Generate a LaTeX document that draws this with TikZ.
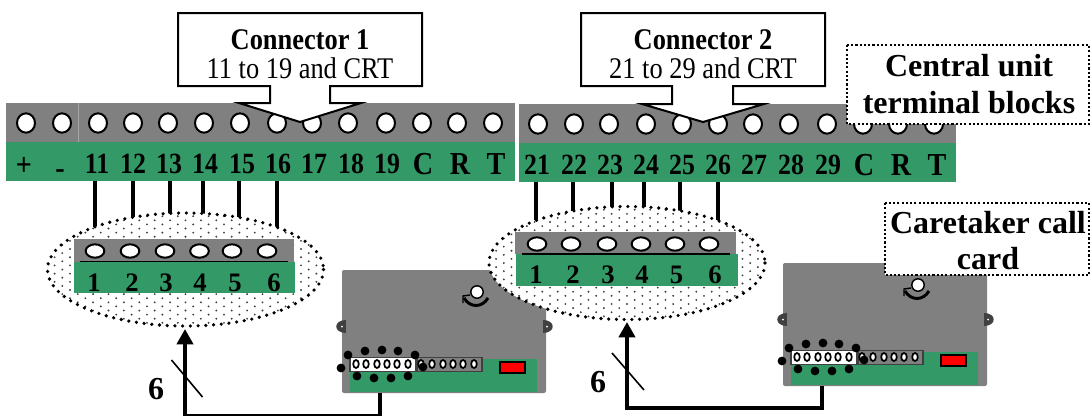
\documentclass[tikz,border=0pt]{standalone}
\usepackage{fontspec}
\setmainfont{Liberation Serif}
\usetikzlibrary{shapes.geometric,arrows.meta}
\definecolor{blockgrey}{HTML}{808080}
\definecolor{blockgreen}{HTML}{339966}
\definecolor{edgegrey}{HTML}{404040}
\newcommand{\narrow}[1]{\scalebox{0.88}[1]{#1}}
\tikzset{
  greypart/.style={fill=blockgrey,draw=none},
  greenpart/.style={fill=blockgreen,draw=none},
  hole/.style={ellipse,draw=black,fill=white,line width=1.5pt,inner sep=0pt,minimum width=13.5pt,minimum height=14.5pt},
  smallhole/.style={ellipse,draw=black,fill=white,line width=1.5pt,inner sep=0pt,minimum width=14pt,minimum height=10pt},
  termlabel/.style={anchor=base,inner sep=0pt,font=\fontsize{22pt}{24pt}\selectfont\bfseries},
  capslabel/.style={anchor=base,inner sep=0pt,font=\fontsize{24pt}{26pt}\selectfont\bfseries},
  digitlabel/.style={anchor=base,inner sep=0pt,font=\fontsize{20pt}{22pt}\selectfont\bfseries},
  biglabel/.style={anchor=base,inner sep=0pt,font=\fontsize{24pt}{28pt}\selectfont\bfseries},
  calloutbox/.style={draw=black,fill=white,line width=1.5pt,line join=miter},
  calltext/.style={anchor=base,inner sep=0pt,font=\fontsize{22.5pt}{24pt}\selectfont},
  notebox/.style={draw=black,fill=white,line width=1.6pt,dash pattern=on 1.6pt off 1.6pt},
  wire/.style={draw=black,line width=3pt},
  bus/.style={draw=black,line width=3pt,line join=miter},
  busarrow/.style={bus,-{Triangle[width=12pt,length=11.5pt]}},
  slash/.style={draw=black,line width=1.2pt},
  zonerim/.style={draw=black,line width=2.7pt,line cap=round,dash pattern=on 0pt off 5.8pt},
}
\newcommand{\dotzone}[2]{%
  \begin{scope}
    \clip (#1,#2) ellipse [x radius=138,y radius=56.5];
    \fill[white] (#1,#2) ellipse [x radius=138,y radius=56.5];
    \foreach \r in {-15,...,15}{%
      \pgfmathsetmacro{\yy}{#2+\r*4.1}
      \pgfmathsetmacro{\off}{mod(abs(\r),2)*7.7}
      \foreach \c in {-10,...,10}{%
        \fill[black!75] ({#1+\c*15.4+\off},\yy) circle [radius=1.05];
      }
    }
  \end{scope}
  \draw[zonerim] (#1,#2) ellipse [x radius=138,y radius=56.5];
}
\newcommand{\cardbody}{%
  \fill[greypart,rounded corners=1.5pt] (342,270) rectangle (546,393);
  \fill[edgegrey] (346,320) .. controls (333,320) and (333,333) .. (346,333) -- cycle;
  \fill[edgegrey] (543,320) .. controls (556,320) and (556,333) .. (543,333) -- cycle;
  \fill[white] (342,326.5) circle [radius=1];
  \fill[white] (547,326.5) circle [radius=1];
  \fill[greenpart] (350,359) rectangle (537,392);
  \draw[fill=white,draw=edgegrey,line width=1.3pt] (350,357.5) rectangle (416,371.5);
  \draw[fill=blockgrey,draw=edgegrey,line width=1.3pt] (417,357.5) rectangle (482,371.5);
  \foreach \x in {356,366,377,387,397,408,421,432,443,453,463,474}{%
    \draw[fill=white,line width=1.3pt] (\x,364) ellipse [x radius=2.8,y radius=4];
  }
  \foreach \x/\y in {348/355,365/351,382/350,398/351,415/355,341/368,423/367,357/376,374/378,391/378,408/376}{%
    \fill[black] (\x,\y) circle [radius=4.4];
  }
  \draw[fill=red,draw=black,line width=1.4pt] (500,362) rectangle (525,373);
  \draw[fill=white,draw=black,line width=1.1pt] (477,292) circle [radius=6.2];
  \draw[line width=2.2pt] (464,298) .. controls (470,308) and (482,308) .. (488,298);
  \draw[line width=1.1pt] (470,295) -- (463,296) -- (463,303);
}
\begin{document}
\begin{tikzpicture}[x=0.75pt,y=-0.75pt]
\useasboundingbox (0,0) rectangle (1090,415);
\clip (0,0) rectangle (1090,415);

% terminal block 1
\fill[greypart] (6,103) rectangle (515,142);
\fill[greenpart] (6,142) rectangle (515,181);
\draw[blockgrey!70!white,line width=0.4pt] (78,103) -- (78,142);
\foreach \x [count=\i] in {26,62,98,133,168,204,240,277,312,348,386,422,457,493}{%
  \node[hole] (ha\i) at (\x,123) {};
}
\node[capslabel] (la1) at (24,175) {\narrow{+}};
\node[capslabel] (la2) at (60,178) {\narrow{-}};
\foreach \x/\t [count=\i from 3] in {97/11,133/12,169/13,205/14,242/15,278/16,314/17,351/18,387/19}{%
  \node[termlabel] (la\i) at (\x,173) {\narrow{\t}};
}
\foreach \x/\t [count=\i from 12] in {423/C,460/R,496/T}{%
  \node[capslabel] (la\i) at (\x,174) {\narrow{\t}};
}

% terminal block 2
\fill[greypart] (519,104) rectangle (956,143);
\fill[greenpart] (519,143) rectangle (956,182);
\foreach \x [count=\i] in {538,574,609,646,682,718,753,789,827,863,898,934}{%
  \node[hole] (hb\i) at (\x,124) {};
}
\foreach \x/\t [count=\i] in {537/21,574/22,610/23,646/24,682/25,718/26,754/27,791/28,828/29}{%
  \node[termlabel] (lb\i) at (\x,174) {\narrow{\t}};
}
\foreach \x/\t [count=\i from 10] in {864/C,901/R,937/T}{%
  \node[capslabel] (lb\i) at (\x,175) {\narrow{\t}};
}

% callouts
\draw[calloutbox] (178,13) -- (422,13) -- (422,86) -- (330,86) -- (330,103) -- (361,103) -- (300,122) -- (239,103) -- (270,103) -- (270,86) -- (178,86) -- cycle;
\node[calltext,font=\fontsize{22.5pt}{24pt}\selectfont\bfseries] (c1a) at (300,49) {\narrow{Connector 1}};
\node[calltext] (c1b) at (300,78) {\narrow{11 to 19 and CRT}};
\draw[calloutbox] (581,13) -- (825,13) -- (825,86) -- (733,86) -- (733,104) -- (764,104) -- (703,122) -- (642,104) -- (672,104) -- (672,86) -- (581,86) -- cycle;
\node[calltext,font=\fontsize{22.5pt}{24pt}\selectfont\bfseries] (c2a) at (703,49) {\narrow{Connector 2}};
\node[calltext] (c2b) at (703,78) {\narrow{21 to 29 and CRT}};

% wires, ends named
\foreach \x/\y [count=\i] in {94.5/227,132.5/218,170/214,203/214,239/218,277/227}{%
  \coordinate (wat\i) at (\x,181);
  \coordinate (wae\i) at (\x,\y);
  \draw[wire] (wat\i) -- (wae\i);
}
\foreach \x/\y [count=\i] in {535.5/220,573/211,611.5/207,643.5/207,680/211,718/221}{%
  \coordinate (wbt\i) at (\x,182);
  \coordinate (wbe\i) at (\x,\y);
  \draw[wire] (wbt\i) -- (wbe\i);
}

% caretaker cards
\cardbody
\begin{scope}[shift={(441,-7)}]
\cardbody
\end{scope}

% dotted zones
\dotzone{185.5}{269.5}
\dotzone{627}{263}

% small block 1
\fill[greypart] (74,239) rectangle (294,262);
\fill[greenpart] (74,262) rectangle (295,293);
\draw[black,line width=0.8pt] (80,261.5) -- (288,261.5);
\foreach \x [count=\i] in {95,130,165,199.5,232,267}{%
  \node[smallhole] (sa\i) at (\x,251) {};
}
\foreach \x [count=\i] in {94,132,166,200,235,274}{%
  \node[digitlabel] (na\i) at (\x,291) {\i};
}

% small block 2
\fill[greypart] (515,232) rectangle (736,254);
\fill[greenpart] (516,254) rectangle (738,286);
\draw[black,line width=0.8pt] (522,254) -- (730,254);
\foreach \x [count=\i] in {537,571,607,641,675,709}{%
  \node[smallhole] (sb\i) at (\x,244) {};
}
\foreach \x [count=\i] in {536,573,608,642,676.5,715}{%
  \node[digitlabel] (nb\i) at (\x,283) {\i};
}

% bus arrows
\coordinate (outa) at (380,393);
\coordinate (cornera) at (380,415.5);
\coordinate (cornerb) at (185,415.5);
\coordinate (tipa) at (185,329);
\draw[busarrow] (outa) -- (cornera) -- (cornerb) -- (tipa);
\coordinate (sa1) at (171.5,360);
\coordinate (sa2) at (202.5,397);
\draw[slash] (sa1) -- (sa2);
\node[biglabel] (sixa) at (156,399) {6};

\coordinate (outb) at (822,386);
\coordinate (cornerc) at (822,408);
\coordinate (cornerd) at (627,408);
\coordinate (tipb) at (627,322);
\draw[busarrow] (outb) -- (cornerc) -- (cornerd) -- (tipb);
\coordinate (sb1) at (612,353);
\coordinate (sb2) at (644,390);
\draw[slash] (sb1) -- (sb2);
\node[biglabel] (sixb) at (598,392) {6};

% note boxes
\draw[notebox] (847,45) rectangle (1089,124);
\node[biglabel] (cu1) at (969,76) {Central unit};
\node[biglabel] (cu2) at (969,113) {terminal blocks};
\draw[notebox] (885,203) rectangle (1089,275);
\node[biglabel] (ct1) at (988,233) {Caretaker call};
\node[biglabel] (ct2) at (988,269) {card};
\end{tikzpicture}
\end{document}
